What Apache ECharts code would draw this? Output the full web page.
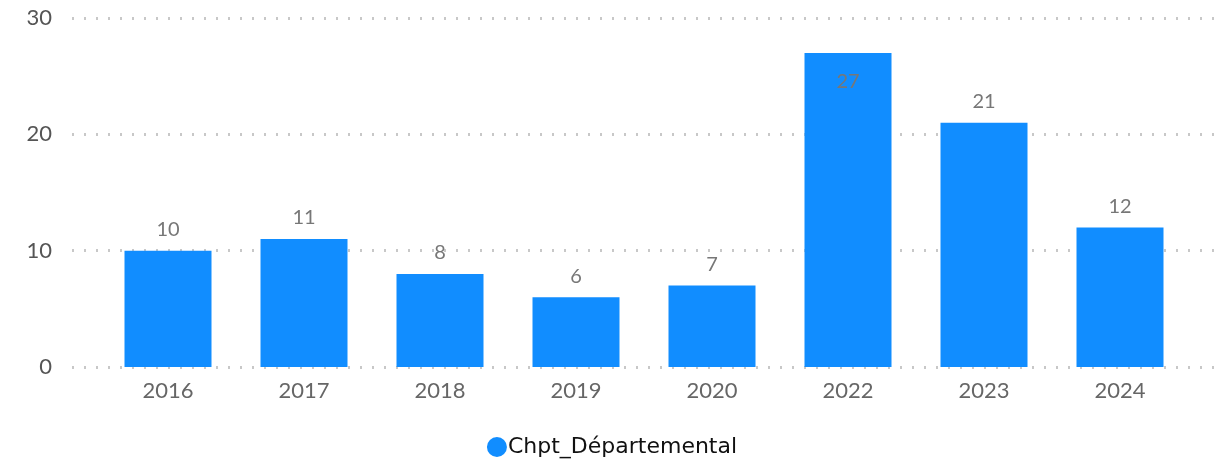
<!DOCTYPE html>
<html>
<head>
<meta charset="utf-8">
<script src="https://cdn.jsdelivr.net/npm/echarts@6/dist/echarts.min.js"></script>
<style>
  html, body { margin: 0; padding: 0; background: #fff; }
  #chart { width: 1224px; height: 464px; }
</style>
</head>
<body>
<div id="chart"></div>
<script>
const years = ['2016', '2017', '2018', '2019', '2020', '2022', '2023', '2024'];
const counts = [10, 11, 8, 6, 7, 27, 21, 12];
const yTicks = [0, 10, 20, 30];

const chart = echarts.init(document.getElementById('chart'));

// dotted grid, drawn on a wider hidden grid so it runs past the bars
let option = {
  legend: {
    bottom: 1,
    left: 'center',
    icon: 'circle',
    itemWidth: 20,
    itemHeight: 20,
    itemGap: 4,
    textStyle: { fontFamily: 'DejaVu Sans', fontSize: 22, color: '#111', padding: [0, 0, 0, -4] },
    data: ['Chpt_Départemental']
  },
  grid: [
    { left: 100, right: 36, top: 18, bottom: 97 },
    { left: 72, right: 10, top: 18, bottom: 97 }
  ],
  xAxis: [
    {
      type: 'category',
      gridIndex: 0,
      data: years,
      axisLine: { show: false },
      axisTick: { show: false },
      axisLabel: { fontFamily: 'Lato', fontSize: 22, color: '#666', margin: 13 }
    },
    {
      type: 'value',
      gridIndex: 1,
      min: 0, max: 1,
      show: false
    }
  ],
  yAxis: [
    {
      type: 'value',
      gridIndex: 0,
      min: yTicks[0], max: yTicks[yTicks.length - 1], interval: 10,
      axisLine: { show: false },
      axisTick: { show: false },
      splitLine: { show: false },
      axisLabel: { fontFamily: 'Lato', fontSize: 22, color: '#555', margin: 48 }
    },
    {
      type: 'value',
      gridIndex: 1,
      min: yTicks[0], max: yTicks[yTicks.length - 1], interval: 10,
      axisLine: { show: false },
      axisTick: { show: false },
      axisLabel: { show: false },
      splitLine: {
        show: true,
        lineStyle: { color: '#c8c8c8', width: 3, type: [2, 10] }
      }
    }
  ],
  series: [
    {
      name: 'Chpt_Départemental',
      type: 'bar',
      xAxisIndex: 0,
      yAxisIndex: 0,
      barWidth: 87,
      z: 3,
      itemStyle: { color: '#118DFF' },
      label: {
        show: true,
        position: 'top',
        distance: 11,
        fontFamily: 'Lato',
        fontSize: 20,
        color: '#777'
      },
      data: counts.map(v => v >= 25
        ? { value: v, label: { position: 'insideTop', distance: 19 } }
        : v)
    }
  ]
};

chart.setOption(option);
</script>
</body>
</html>
